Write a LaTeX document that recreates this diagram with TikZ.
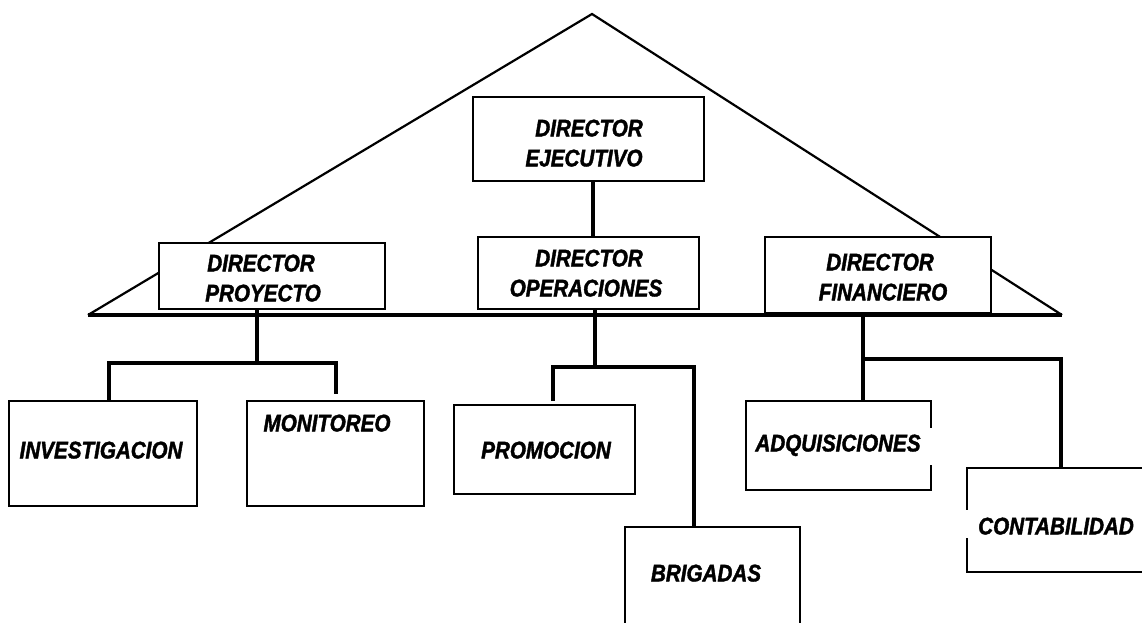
\documentclass[tikz,border=0pt]{standalone}
\usepackage{fontspec}
\newfontfamily\orgfont[FakeStretch=0.86,FakeBold=1.6]{Liberation Sans}
\usetikzlibrary{calc}
\tikzset{
  box/.style={draw, fill=white, line width=2pt, inner sep=0pt},
  conn/.style={line width=3.4pt},
  tri/.style={line width=2.2pt, line join=miter},
  baseline/.style={line width=4.5pt},
  lbl/.style={inner sep=0pt, text depth=0pt, font=\orgfont\bfseries\itshape\fontsize{24}{30}\selectfont}
}
\begin{document}
\begin{tikzpicture}[x=1pt,y=-1pt]
\useasboundingbox (0,0) rectangle (1142,622);
\clip (0,0) rectangle (1142,622);
\fill[white] (0,0) rectangle (1142,622);
% triangle
\coordinate (apex) at (592,14);
\coordinate (bl) at (88,315);
\coordinate (br) at (1062,315);
\draw[tri] (bl) -- (apex) -- (br);
\draw[baseline] (bl) -- (br);
% boxes
\node[box, minimum width=231pt, minimum height=84pt] (ej) at (588.5,139) {};
\node[box, minimum width=226pt, minimum height=66pt] (pr) at (272,276) {};
\node[box, minimum width=221pt, minimum height=72pt] (op) at (588.5,273) {};
\node[box, minimum width=226pt, minimum height=76pt] (fi) at (878,275) {};
\node[box, minimum width=188pt, minimum height=105pt] (inv) at (103,453.5) {};
\node[box, minimum width=177pt, minimum height=105pt] (mon) at (335.5,453.5) {};
\node[box, minimum width=181pt, minimum height=89pt] (prom) at (544.5,449.5) {};
\node[box, minimum width=175pt, minimum height=133pt] (brig) at (712.5,593.5) {};
\node[box, minimum width=185pt, minimum height=89pt] (adq) at (838.5,445.5) {};
\node[box, minimum width=203pt, minimum height=104pt] (cont) at (1068.5,520) {};
% gaps in borders
\fill[white] (928,428) rectangle (934,465);
\fill[white] (964,510) rectangle (970,538);
% connectors
\coordinate (xE) at (593,0);
\draw[conn] (ej.south -| xE) -- (op.north -| xE);
\coordinate (jP) at (257,363);
\coordinate (lP) at (109,363);
\coordinate (rP) at (336,363);
\draw[conn] (pr.south -| jP) -- (jP);
\draw[conn] (inv.north -| lP) -- (lP) -- (rP) -- ($(mon.north -| rP)+(0,-6)$);
\coordinate (jO) at (595,367);
\coordinate (lO) at (553,367);
\coordinate (rO) at (694,367);
\draw[conn] (op.south -| jO) -- (jO);
\draw[conn] ($(prom.north -| lO)+(0,-3)$) -- (lO) -- (rO) -- (brig.north -| rO);
\coordinate (jF) at (863,359);
\coordinate (rF) at (1061,359);
\draw[conn] (fi.south -| jF) -- (adq.north -| jF);
\draw[conn] (jF) -- (rF) -- (cont.north -| rF);
% labels
\node[lbl] (ej1) at (589,128) {DIRECTOR};
\node[lbl] (ej2) at (584,158) {EJECUTIVO};
\node[lbl] (pr1) at (261,263) {DIRECTOR};
\node[lbl] (pr2) at (263,293) {PROYECTO};
\node[lbl] (op1) at (589,258) {DIRECTOR};
\node[lbl] (op2) at (586,288) {OPERACIONES};
\node[lbl] (fi1) at (880,262) {DIRECTOR};
\node[lbl] (fi2) at (883,292) {FINANCIERO};
\node[lbl] (invt) at (101,450) {INVESTIGACION};
\node[lbl] (mont) at (327,423) {MONITOREO};
\node[lbl] (promt) at (546,450) {PROMOCION};
\node[lbl] (brigt) at (706,573) {BRIGADAS};
\node[lbl] (adqt) at (838,443) {ADQUISICIONES};
\node[lbl] (contt) at (1056,526) {CONTABILIDAD};
\end{tikzpicture}
\end{document}
